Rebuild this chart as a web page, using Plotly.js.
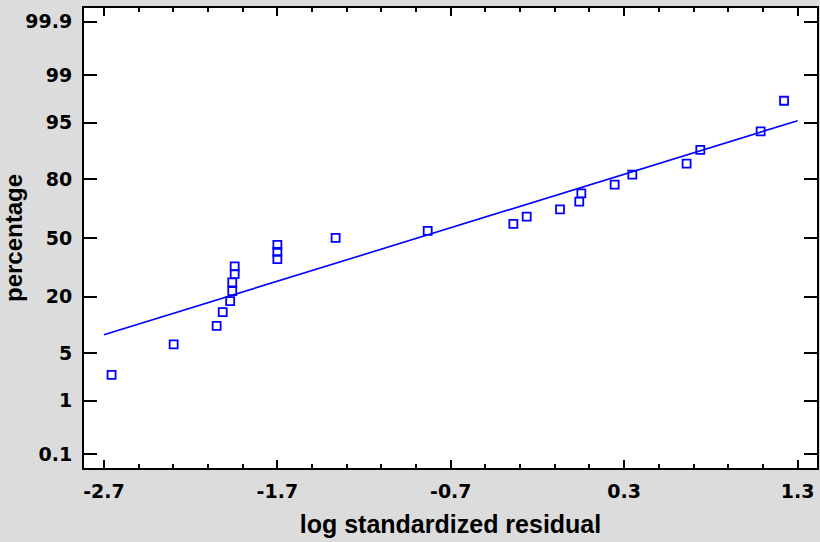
<!DOCTYPE html>
<html>
<head>
<meta charset="utf-8">
<script src="https://cdn.plot.ly/plotly-3.0.1.min.js"></script>
<style>html,body{margin:0;padding:0;background:rgb(220,220,220);}#chart{width:820px;height:542px;}</style>
</head>
<body>
<div id="chart"></div>
<script>
// Data
var residuals = [-2.656, -2.298, -2.050, -2.015, -1.972, -1.960, -1.960, -1.946, -1.946,
                 -1.700, -1.700, -1.700, -1.364, -0.833, -0.339, -0.262, -0.070, 0.041,
                 0.053, 0.245, 0.347, 0.660, 0.739, 1.087, 1.222];
var percentages = [2.5, 6.4, 10.4, 14.4, 18.3, 22.3, 26.2, 30.2, 34.2, 38.1, 42.1, 46.0,
                   50.0, 54.0, 57.9, 61.9, 65.8, 69.8, 73.8, 77.7, 81.7, 85.6, 89.6, 93.6, 97.5];
var fitX = [-2.7, 1.3];
var fitPct = [8.3, 95.3];
var xTickVals = [-2.7, -1.7, -0.7, 0.3, 1.3];
var yTickPct = [0.1, 1, 5, 20, 50, 80, 95, 99, 99.9];
var yTickText = ['0.1', '1', '5', '20', '50', '80', '95', '99', '99.9'];

// normal probability scale: inverse standard normal CDF (Acklam)
function probit(p) {
  var a = [-3.969683028665376e+01, 2.209460984245205e+02, -2.759285104469687e+02,
           1.383577518672690e+02, -3.066479806614716e+01, 2.506628277459239e+00];
  var b = [-5.447609879822406e+01, 1.615858368580409e+02, -1.556989798598866e+02,
           6.680131188771972e+01, -1.328068155288572e+01];
  var c = [-7.784894002430293e-03, -3.223964580411365e-01, -2.400758277161838e+00,
           -2.549732539343734e+00, 4.374664141464968e+00, 2.938163982698783e+00];
  var d = [7.784695709041462e-03, 3.224671290700398e-01, 2.445134137142996e+00,
           3.754408661907416e+00];
  var pl = 0.02425, ph = 1 - pl, q, r;
  if (p < pl) {
    q = Math.sqrt(-2 * Math.log(p));
    return (((((c[0]*q+c[1])*q+c[2])*q+c[3])*q+c[4])*q+c[5]) / ((((d[0]*q+d[1])*q+d[2])*q+d[3])*q+1);
  } else if (p <= ph) {
    q = p - 0.5; r = q * q;
    return (((((a[0]*r+a[1])*r+a[2])*r+a[3])*r+a[4])*r+a[5])*q / (((((b[0]*r+b[1])*r+b[2])*r+b[3])*r+b[4])*r+1);
  } else {
    q = Math.sqrt(-2 * Math.log(1 - p));
    return -(((((c[0]*q+c[1])*q+c[2])*q+c[3])*q+c[4])*q+c[5]) / ((((d[0]*q+d[1])*q+d[2])*q+d[3])*q+1);
  }
}
function toZ(arr) { return arr.map(function (v) { return probit(v / 100); }); }

var tickFont = {family: 'DejaVu Sans', size: 19, color: '#000', weight: 'bold'};
var titleFont = {family: 'Liberation Sans, Arial, sans-serif', size: 25, color: '#000', weight: 'bold'};

var traces = [
  {
    x: fitX, y: toZ(fitPct), type: 'scatter', mode: 'lines',
    line: {color: '#0000ff', width: 1.6}, hoverinfo: 'skip', showlegend: false
  },
  {
    x: residuals, y: toZ(percentages), type: 'scatter', mode: 'markers',
    marker: {symbol: 'square-open', size: 8, color: '#0000ff', line: {width: 1.8, color: '#0000ff'}},
    showlegend: false
  }
];

var layout = {
  width: 820, height: 542,
  paper_bgcolor: 'rgb(220,220,220)', plot_bgcolor: '#ffffff',
  margin: {l: 84, r: 3, t: 8, b: 74},
  showlegend: false,
  xaxis: {
    range: [-2.815, 1.412], showgrid: false, zeroline: false,
    showline: true, linecolor: '#000', linewidth: 2, mirror: 'allticks',
    ticks: 'inside', ticklen: 8, tickwidth: 2, tickcolor: '#000',
    tickmode: 'array', tickvals: xTickVals, ticktext: xTickVals.map(function (v) { return v.toFixed(1); }),
    tickfont: tickFont, ticklabelstandoff: 5,
    minor: {dtick: 0.2, tick0: -2.7, ticks: 'inside', ticklen: 4, tickwidth: 2, tickcolor: '#000', showgrid: false},
    title: {text: 'log standardized residual', font: titleFont, standoff: 15}
  },
  yaxis: {
    range: [-3.29, 3.286], showgrid: false, zeroline: false,
    showline: true, linecolor: '#000', linewidth: 2, mirror: 'allticks',
    ticks: 'inside', ticklen: 13, tickwidth: 2, tickcolor: '#000',
    tickmode: 'array', tickvals: toZ(yTickPct), ticktext: yTickText,
    tickfont: tickFont, ticklabelstandoff: 6,
    title: {text: 'percentage', font: {family: 'Liberation Sans, Arial, sans-serif', size: 24, color: '#000', weight: 'bold'}, standoff: 0}
  }
};

Plotly.newPlot('chart', traces, layout, {staticPlot: true, displayModeBar: false});
</script>
</body>
</html>
